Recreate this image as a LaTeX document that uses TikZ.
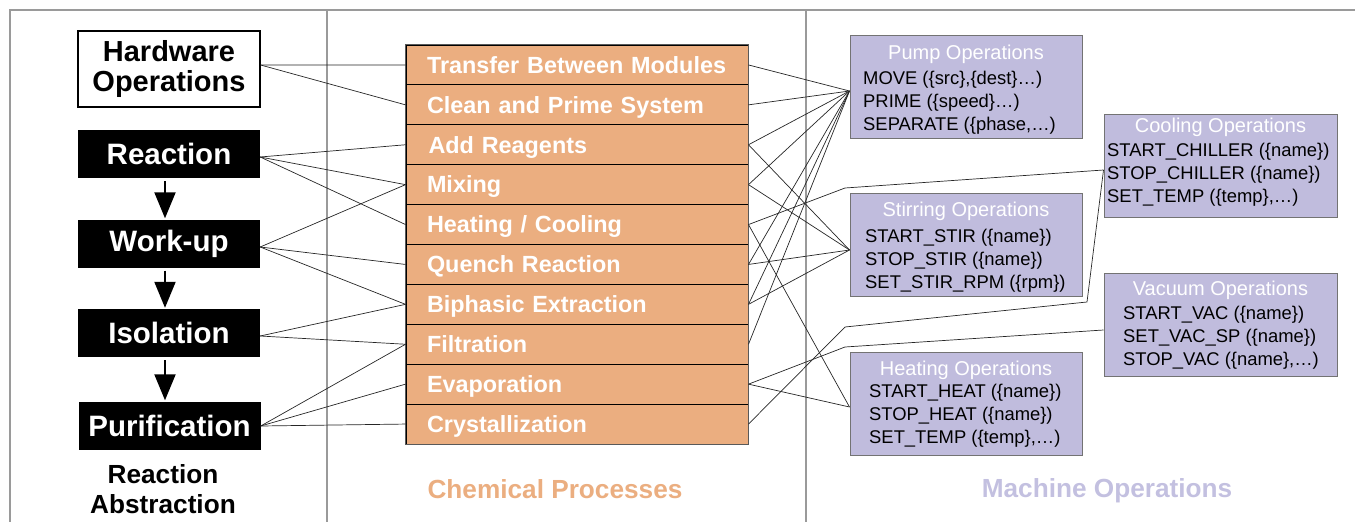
\documentclass[tikz,border=0pt]{standalone}
\usepackage{fontspec}
\setmainfont{Liberation Sans}
\usetikzlibrary{arrows.meta,calc}
\definecolor{orng}{HTML}{EBAE80}
\definecolor{lav}{HTML}{C0BCDD}
\definecolor{lavtxt}{HTML}{C3C0E0}
\definecolor{framegray}{HTML}{9A9A9A}
\tikzset{
 frameline/.style={draw=framegray, line width=2pt},
 hwbox/.style={draw=black, line width=1.2pt, fill=white, minimum width=182pt, minimum height=76pt, inner sep=0pt, align=center, font=\fontsize{29}{29.5}\selectfont\bfseries},
 stagebox/.style={fill=black, text=white, minimum width=182pt, minimum height=48pt, inner sep=0pt, font=\fontsize{29.5}{30}\selectfont\bfseries},
 flowarrow/.style={-{Triangle[width=21pt,length=26pt]}, line width=2pt},
 procrow/.style={draw=black, line width=1pt, fill=orng, text=white, minimum height=39.9pt, text width=300pt, text height=20pt, text depth=3.5pt, inner xsep=21pt, inner ysep=0pt, align=left, font=\fontsize{23.4}{24}\selectfont\bfseries},
 opsbox/.style={draw=black!55, line width=1pt, fill=lav, minimum width=232pt, minimum height=103pt, inner sep=0pt},
 opstitle/.style={text=white, font=\fontsize{20}{22}\selectfont, inner sep=0pt},
 opsitem/.style={text=black, font=\fontsize{18.4}{20}\selectfont, inner sep=0pt, anchor=west},
 link/.style={draw=black!85, line width=0.7pt},
 captiontxt/.style={font=\fontsize{26.2}{30}\selectfont\bfseries, align=center}
}
\begin{document}
\begin{tikzpicture}[x=1pt,y=-1pt]
\useasboundingbox (0,0) rectangle (1355,522);
% frame
\draw[frameline] (10,523) -- (10,10) -- (1356,10);
\draw[frameline] (327,10) -- (327,523);
\draw[frameline] (806,10) -- (806,523);

% left column
\node[hwbox] (hw) at (169,69) {Hardware\\Operations};
\node[stagebox] (rxn) at (169,154) {Reaction};
\node[stagebox] (wu) at (169,243.5) {Work-up};
\node[stagebox] (iso) at (169,333) {Isolation};
\node[stagebox] (pur) at (169.5,425.5) {Purification};
\draw[flowarrow] ($(rxn.south)+(-4,3)$) -- ($(wu.north)+(-4,-1)$);
\draw[flowarrow] ($(wu.south)+(-4,3)$) -- ($(iso.north)+(-4,-1)$);
\draw[flowarrow] ($(iso.south)+(-4,3)$) -- ($(pur.north)+(-4.5,-1)$);
\node[captiontxt] (rab) at (163,489) {Reaction\\Abstraction};

% process rows
\node[procrow] (r1) at (577,64.95) {\mbox{Transfer Between Modules}};
\node[procrow] (r2) at (577,104.85) {Clean and Prime System};
\node[procrow] (r3) at (577,144.75) {\hspace{1.5pt}Add Reagents};
\node[procrow] (r4) at (577,184.65) {Mixing};
\node[procrow] (r5) at (577,224.55) {Heating / Cooling};
\node[procrow] (r6) at (577,264.45) {Quench Reaction};
\node[procrow] (r7) at (577,304.35) {Biphasic Extraction};
\node[procrow] (r8) at (577,344.25) {Filtration};
\node[procrow] (r9) at (577,384.15) {Evaporation};
\node[procrow] (r10) at (577,424.05) {Crystallization};
\draw[draw=black!65, line width=1.5pt] (r1.north west) rectangle (r10.south east);
\node[captiontxt, text=orng] (chem) at (555,489) {Chemical Processes};

% machine operation boxes
\node[opsbox] (pump) at (966,86.5) {};
\node[opstitle] (pumpt) at (966,54) {Pump Operations};
\node[opsitem] (pump1) at (863,80) {MOVE (\{src\},\{dest\}…)};
\node[opsitem] (pump2) at (863,103) {PRIME (\{speed\}…)};
\node[opsitem] (pump3) at (863,126) {SEPARATE (\{phase,…)};

\node[opsbox] (stir) at (966,244.5) {};
\node[opstitle] (stirt) at (966,211) {Stirring Operations};
\node[opsitem] (stir1) at (865,238) {START\_STIR (\{name\})};
\node[opsitem] (stir2) at (865,261) {STOP\_STIR (\{name\})};
\node[opsitem] (stir3) at (865,284) {SET\_STIR\_RPM (\{rpm\})};

\node[opsbox] (heat) at (966,403.5) {};
\node[opstitle] (heatt) at (966,370) {Heating Operations};
\node[opsitem] (heat1) at (869,393) {START\_HEAT (\{name\})};
\node[opsitem] (heat2) at (869,416) {STOP\_HEAT (\{name\})};
\node[opsitem] (heat3) at (869,439) {SET\_TEMP (\{temp\},…)};

\node[opsbox, minimum width=233pt] (cool) at (1220.5,165.5) {};
\node[opstitle] (coolt) at (1220.5,127) {Cooling Operations};
\node[opsitem] (cool1) at (1107,152) {START\_CHILLER (\{name\})};
\node[opsitem] (cool2) at (1107,175) {STOP\_CHILLER (\{name\})};
\node[opsitem] (cool3) at (1107,198) {SET\_TEMP (\{temp\},…)};

\node[opsbox, minimum width=233pt] (vac) at (1220.5,324.5) {};
\node[opstitle] (vact) at (1220.5,290) {Vacuum Operations};
\node[opsitem] (vac1) at (1123,315) {START\_VAC (\{name\})};
\node[opsitem] (vac2) at (1123,338) {SET\_VAC\_SP (\{name\})};
\node[opsitem] (vac3) at (1123,361) {STOP\_VAC (\{name\},…)};

\node[captiontxt, text=lavtxt] (mach) at (1107,491) {Machine Operations};

% connection points
\coordinate (hwp) at ($(hw.east)+(0,-4)$);
\coordinate (rxp) at ($(rxn.east)+(0,3)$);
\coordinate (wup) at ($(wu.east)+(0,3.5)$);
\coordinate (isop) at ($(iso.east)+(0,3)$);
\coordinate (purp) at ($(pur.east)+(0,0.5)$);
\coordinate (pumpin) at ($(pump.west)+(0,4.5)$);
\coordinate (stirin) at ($(stir.west)+(0,5.5)$);
\coordinate (heatin) at ($(heat.west)+(0,3.5)$);
\coordinate (coolin) at ($(cool.west)+(0,4.5)$);
\coordinate (vacin) at ($(vac.west)+(0,5.5)$);
\coordinate (b1) at (845,188);
\coordinate (b2) at (845,347);
\coordinate (b3) at (845,327);
\coordinate (b4) at (1087,302);

% left links
\draw[link] (hwp) -- (r1.west);
\draw[link] (hwp) -- (r2.west);
\draw[link] (rxp) -- (r3.west);
\draw[link] (rxp) -- (r4.west);
\draw[link] (rxp) -- (r5.west);
\draw[link] (wup) -- (r4.west);
\draw[link] (wup) -- (r6.west);
\draw[link] (wup) -- (r7.west);
\draw[link] (isop) -- (r7.west);
\draw[link] (isop) -- (r8.west);
\draw[link] (purp) -- (r8.west);
\draw[link] (purp) -- (r9.west);
\draw[link] (purp) -- (r10.west);

% right links
\foreach \r in {r1,r2,r3,r4,r6,r7,r8} \draw[link] (\r.east) -- (pumpin);
\foreach \r in {r3,r4,r6,r7} \draw[link] (\r.east) -- (stirin);
\foreach \r in {r5,r9} \draw[link] (\r.east) -- (heatin);
\draw[link] (r5.east) -- (b1) -- (coolin);
\draw[link] (r10.east) -- (b3) -- (b4) -- (coolin);
\draw[link] (r9.east) -- (b2) -- (vacin);
\end{tikzpicture}
\end{document}
